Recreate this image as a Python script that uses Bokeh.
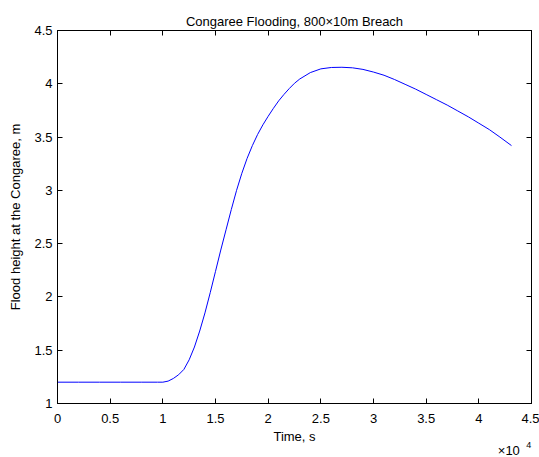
from bokeh.plotting import figure
from bokeh.models import LinearAxis, FixedTicker, Range1d, Label, CustomJSTickFormatter
from bokeh.embed import file_html
from bokeh.resources import INLINE

# Data (time in seconds, flood height in m)
time_s = [0, 2000, 4000, 6000, 8000, 9500, 10000, 10500, 11000, 11500, 12000, 12500,
          13000, 13500, 14000, 14500, 15000, 15500, 16000, 16500, 17000, 17500, 18000,
          18500, 19000, 19500, 20000, 20500, 21000, 21500, 22000, 22500, 23000, 24000,
          25000, 26000, 27000, 28000, 29000, 30000, 31000, 32000, 33000, 34000, 35000,
          36000, 37000, 38000, 39000, 40000, 41000, 42000, 43100]
height_m = [1.20, 1.20, 1.20, 1.20, 1.20, 1.20, 1.20, 1.21, 1.235, 1.27, 1.32, 1.41,
            1.53, 1.68, 1.85, 2.04, 2.24, 2.44, 2.63, 2.82, 3.00, 3.16, 3.30,
            3.42, 3.525, 3.615, 3.695, 3.77, 3.84, 3.90, 3.955, 4.005, 4.045, 4.105,
            4.14, 4.153, 4.155, 4.15, 4.135, 4.11, 4.08, 4.04, 3.995, 3.95, 3.90,
            3.85, 3.80, 3.745, 3.69, 3.63, 3.57, 3.50, 3.42]

x_ticks = [0, 5000, 10000, 15000, 20000, 25000, 30000, 35000, 40000, 45000]
x_tick_labels = ["0", "0.5", "1", "1.5", "2", "2.5", "3", "3.5", "4", "4.5"]
y_ticks = [1, 1.5, 2, 2.5, 3, 3.5, 4, 4.5]
y_tick_labels = ["1", "1.5", "2", "2.5", "3", "3.5", "4", "4.5"]
x_mult_base = "\u00d710"
x_mult_exp = "4"

FONT = "Liberation Sans"
FS = "13px"

p = figure(width=539, height=457, output_backend="svg", toolbar_location=None,
           x_range=Range1d(0, 45000), y_range=Range1d(1, 4.5),
           x_axis_location=None, y_axis_location=None)
p.frame_width = 474
p.frame_height = 373
p.min_border_left = 57
p.min_border_right = 8
p.min_border_top = 30
p.min_border_bottom = 54
p.background_fill_color = "white"
p.border_fill_color = "white"
p.outline_line_color = "black"
p.outline_line_width = 1
p.grid.visible = False

p.title.text = "Congaree Flooding, 800\u00d710m Breach"
p.title.align = "center"
p.title.text_font = FONT
p.title.text_font_size = FS
p.title.text_font_style = "normal"
p.title.text_color = "black"
p.title.standoff = 4

def style_axis(ax, ticks, labels, show_labels):
    ax.ticker = FixedTicker(ticks=ticks)
    if show_labels:
        ax.major_label_overrides = {t: l for t, l in zip(ticks, labels)}
    else:
        ax.formatter = CustomJSTickFormatter(code="return ''")
    ax.minor_tick_line_color = None
    ax.major_tick_in = 5
    ax.major_tick_out = 0
    ax.axis_line_color = "black"
    ax.major_tick_line_color = "black"
    ax.major_label_text_font = FONT
    ax.major_label_text_font_size = FS
    ax.major_label_text_color = "black"
    ax.axis_label_text_font = FONT
    ax.axis_label_text_font_size = FS
    ax.axis_label_text_font_style = "normal"
    ax.axis_label_text_color = "black"

xb = LinearAxis(axis_label="Time, s")
style_axis(xb, x_ticks, x_tick_labels, True)
xb.major_label_standoff = 10
xb.axis_label_standoff = 3
p.add_layout(xb, "below")

yl = LinearAxis(axis_label="Flood height at the Congaree, m")
style_axis(yl, y_ticks, y_tick_labels, True)
yl.major_label_standoff = 5
yl.axis_label_standoff = 8
p.add_layout(yl, "left")

xt = LinearAxis()
style_axis(xt, x_ticks, x_tick_labels, False)
xt.major_label_standoff = 0
p.add_layout(xt, "above")

yr = LinearAxis()
style_axis(yr, y_ticks, y_tick_labels, False)
yr.major_label_standoff = 0
p.add_layout(yr, "right")

p.line(time_s, height_m, line_color="#0000ff", line_width=1)

# multiplier text, placed in the panel below the x axis
p.add_layout(Label(x=41800, y=11, y_units="screen",
                   text=x_mult_base, text_font=FONT, text_font_size=FS,
                   text_baseline="middle", text_color="black"), "below")
p.add_layout(Label(x=44500, y=23, y_units="screen",
                   text=x_mult_exp, text_font=FONT, text_font_size="9px",
                   text_baseline="middle", text_color="black"), "below")

open("out.html", "w").write(file_html(p, INLINE))
